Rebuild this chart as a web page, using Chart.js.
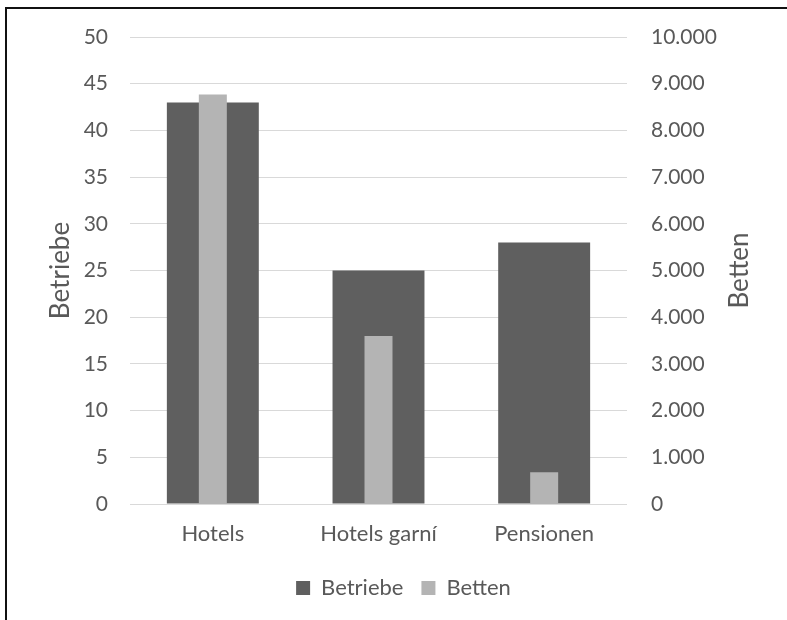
<!DOCTYPE html>
<html>
<head>
<meta charset="utf-8">
<script src="https://cdn.jsdelivr.net/npm/chart.js@4/dist/chart.umd.min.js"></script>
<style>
  html, body { margin: 0; padding: 0; background: #fff; overflow: hidden; }
  #wrap { position: relative; width: 787px; height: 620px; }
  #c { position: absolute; left: 0; top: 0; }
  #frame { position: absolute; left: 5px; top: 7px; width: 820px; height: 700px;
           border-top: 2px solid #111; border-left: 2px solid #111; box-sizing: border-box; pointer-events: none; }
</style>
</head>
<body>
<div id="wrap">
  <canvas id="c" width="787" height="620"></canvas>
  <div id="frame"></div>
</div>
<script>
// Categories and series
const categories = ['Hotels', 'Hotels garní', 'Pensionen'];
const betriebe = [43, 25, 28];          // left axis
const betten = [8770, 3600, 680];       // right axis

// Axis ranges and titles
const leftAxis = { min: 0, max: 50, step: 5, title: 'Betriebe' };
const rightAxis = { min: 0, max: 10000, step: 1000, title: 'Betten' };

const TEXT = '#595959';
const FONT = 'Lato, "Liberation Sans", sans-serif';
const FS_TICK = 21;
const FS_LABEL = 22;
const FS_TITLE = 26;

// German thousands separator: 10000 -> "10.000"
function deNumber(v) {
  return String(Math.round(v)).replace(/\B(?=(\d{3})+(?!\d))/g, '.');
}

// Both axis titles read bottom-to-top
const axisTitles = {
  id: 'axisTitles',
  afterDraw(chart) {
    const ctx = chart.ctx;
    const a = chart.chartArea;
    const cy = (a.top + a.bottom) / 2;
    ctx.save();
    ctx.fillStyle = TEXT;
    ctx.font = FS_TITLE + 'px ' + FONT;
    ctx.textAlign = 'center';
    ctx.textBaseline = 'middle';
    [[61, leftAxis.title], [740, rightAxis.title]].forEach(([x, t]) => {
      ctx.save();
      ctx.translate(x, cy);
      ctx.rotate(-Math.PI / 2);
      ctx.fillText(t, 0, 0);
      ctx.restore();
    });
    ctx.restore();
  }
};

new Chart(document.getElementById('c'), {
  type: 'bar',
  data: {
    labels: categories,
    datasets: [
      {
        label: 'Betriebe',
        data: betriebe,
        yAxisID: 'y',
        backgroundColor: '#5f5f5f',
        borderWidth: 0,
        grouped: false,
        categoryPercentage: 1,
        barPercentage: 0.555,
        order: 1
      },
      {
        label: 'Betten',
        data: betten,
        yAxisID: 'y2',
        backgroundColor: '#b4b4b4',
        borderWidth: 0,
        grouped: false,
        categoryPercentage: 1,
        barPercentage: 0.169,
        order: 0
      }
    ]
  },
  options: {
    responsive: false,
    animation: false,
    devicePixelRatio: 1,
    layout: { padding: { top: 37, left: 20, right: 0, bottom: 11 } },
    plugins: {
      tooltip: { enabled: false },
      legend: {
        position: 'bottom',
        labels: {
          color: TEXT,
          font: { family: FONT, size: FS_LABEL },
          boxWidth: 14,
          boxHeight: 14,
          padding: 18,
          sort: (a, b) => a.datasetIndex - b.datasetIndex
        }
      }
    },
    scales: {
      x: {
        grid: { display: false },
        border: { display: false },
        ticks: { color: TEXT, font: { family: FONT, size: FS_LABEL }, padding: 9 },
        afterFit: s => { s.height = 55; }
      },
      y: {
        position: 'left',
        min: leftAxis.min,
        max: leftAxis.max,
        grid: { color: '#d9d9d9', drawTicks: false, lineWidth: 1 },
        border: { display: false },
        ticks: { stepSize: leftAxis.step, color: TEXT, font: { family: FONT, size: FS_TICK }, padding: 22 },
        afterFit: s => { s.width = 110; }
      },
      y2: {
        position: 'right',
        min: rightAxis.min,
        max: rightAxis.max,
        grid: { display: false },
        border: { display: false },
        ticks: { stepSize: rightAxis.step, color: TEXT, font: { family: FONT, size: FS_TICK }, padding: 16,
                 callback: v => deNumber(v) },
        afterFit: s => { s.width = 160; }
      }
    }
  },
  plugins: [axisTitles]
});
</script>
</body>
</html>
